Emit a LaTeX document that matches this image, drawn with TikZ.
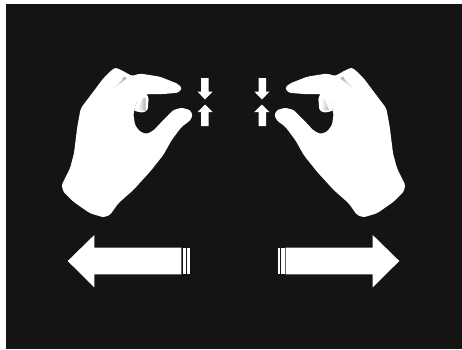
\documentclass[tikz,border=0pt]{standalone}
\definecolor{bgdark}{HTML}{141414}
\definecolor{shade}{HTML}{B0B0B0}
\tikzset{
  every picture/.style={x=1pt,y=-1pt},
}
% outline of the left hand, in px of the reference
\newcommand{\handshape}{%
  \fill[white,rounded corners=2.2pt]
   (115.5,67.5) -- (123,71) -- (132,76) -- (140,73.5) -- (160,76.7) -- (178.3,84) -- (182,88.3)
   -- (178.3,92.7) -- (163.3,94) -- (145,94.3) -- (137.3,100) -- (133.3,113.3)
   -- (135,125) -- (140,131.7) -- (146.7,134) -- (153.3,130.7) -- (161.7,121.7)
   -- (173.3,110) -- (181.7,107.7) -- (190,110) -- (192.7,115) -- (190,120.7)
   -- (181.7,126.7) -- (171.7,140) -- (163.3,155) -- (150,171.7) -- (133.3,190)
   -- (118.3,203.3) -- (110,215) -- (103.3,217.3) -- (90,213.3) -- (73.3,201.7)
   -- (63.3,191.7) -- (61.7,185) -- (70,168.3) -- (74,153.3) -- (77.3,126.7)
   -- (80.7,108.3) -- (93.3,91.7) -- (103.3,78.3) -- (111.7,70) -- cycle;
  % curled finger
  \fill[white,rounded corners=1.5pt]
   (138,98) -- (134,110) -- (134.5,111) -- (143,112.7) -- (147.7,110) -- (148.7,98) -- (146,93) -- cycle;
  \shade[left color=white,right color=shade,draw=none]
   (138,110) -- (143,98) -- (145.5,98) -- (145.5,111) -- cycle;
  % shading at the knuckle
  \shade[bottom color=white,top color=shade,draw=none]
   (105,92) .. controls (113,89) and (119,85) .. (127,78) -- (124,76.5)
   .. controls (120,84) and (113,89) .. cycle;
}
\newcommand{\pincharrows}{%
  \fill[white] (201,78) -- (208.5,78) -- (208.5,91.5) -- (212.7,91.5) -- (205,99.5)
    -- (197.5,91.5) -- (201,91.5) -- cycle;
  \fill[white] (201,126) -- (208.5,126) -- (208.5,112) -- (212.7,112) -- (205,104.5)
    -- (197.5,112) -- (201,112) -- cycle;
}
\newcommand{\bigarrow}{%
  \fill[white] (67.7,261) -- (94.3,235) -- (94.3,247.7) -- (181.3,247.7) -- (181.3,274.3)
    -- (94.3,274.3) -- (94.3,287.3) -- cycle;
  \fill[white] (182.5,247.7) rectangle (186,274.3);
  \fill[white] (187.2,247.7) rectangle (189.5,274.3);
}
\begin{document}
\begin{tikzpicture}
\useasboundingbox (0,0) rectangle (462,349);
\fill[white] (0,0) rectangle (462,349);
\fill[bgdark] (6,4) rectangle (462,349);
\handshape
\pincharrows
\bigarrow
\begin{scope}[xscale=-1,xshift=-467pt]
\handshape
\pincharrows
\bigarrow
\end{scope}
\end{tikzpicture}
\end{document}
